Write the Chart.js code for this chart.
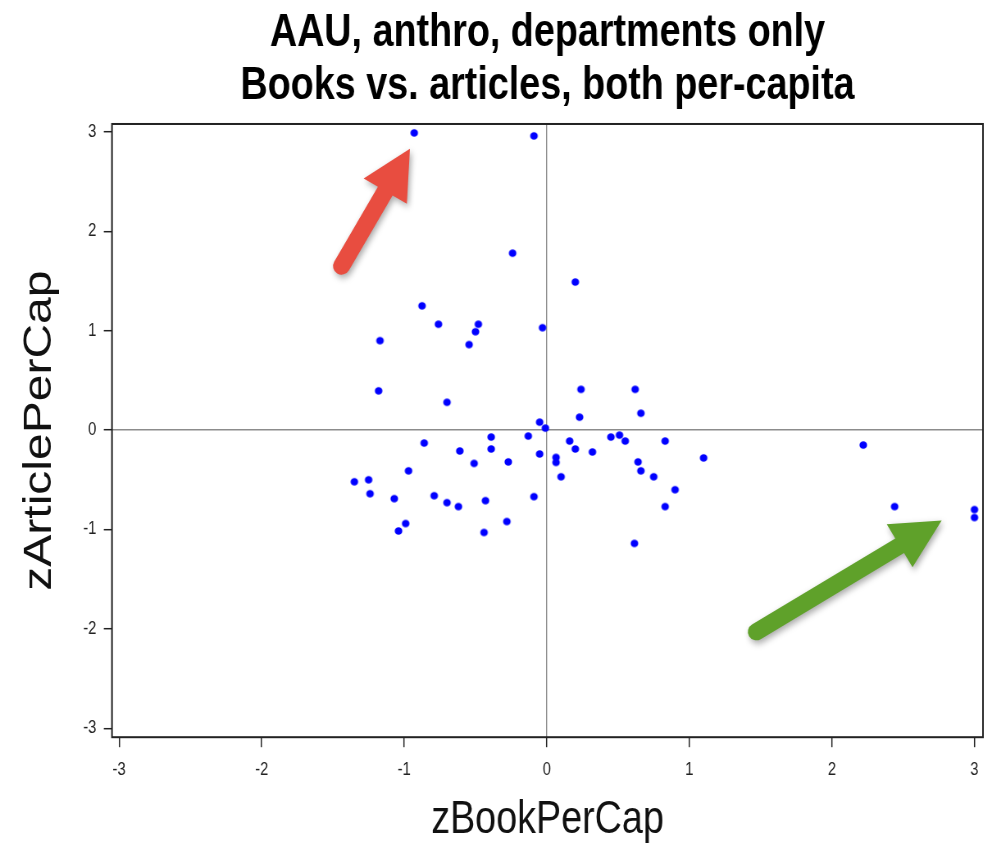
<!DOCTYPE html>
<html>
<head>
<meta charset="utf-8">
<script src="https://cdn.jsdelivr.net/npm/chart.js@4.4.1/dist/chart.umd.min.js"></script>
<style>
  html, body { margin: 0; padding: 0; background: #fff; }
</style>
</head>
<body>
<!-- drawn wider and squeezed by css so the text gets the narrow look of the original -->
<canvas id="scatter" width="1210" height="848" style="display:block;width:992px;height:848px"></canvas>
<script>
const titleLines = ['AAU, anthro, departments only', 'Books vs. articles, both per-capita'];
const xTitle = 'zBookPerCap';
const yTitle = 'zArticlePerCap';
const xTicks = [-3, -2, -1, 0, 1, 2, 3];
const yTicks = [-3, -2, -1, 0, 1, 2, 3];

// one entry per department
const zBookPerCap = [
  -0.93, -0.875, -1.17, -1.18, -0.09, -0.24, 0.20, -0.76, -0.48, -0.50,
  -0.545, -0.03, 0.24, 0.62, 0.23, 0.66, -0.70, -0.05, -0.01, -0.86,
  -0.61, -0.39, -0.39, -0.13, -0.51, -0.27, -0.05, 0.065, 0.065, 0.10,
  0.16, 0.20, 0.32, 0.45, 0.51, 0.55, 0.64, 0.66, 0.75, 0.615,
  -1.35, -1.25, -1.24, -0.97, -1.07, -0.99, -1.04, -0.79, -0.70, -0.62,
  -0.43, -0.44, -0.28, -0.09, 0.83, 0.90, 0.83, 1.10, 2.22, 2.44,
  3.00, 3.00
];
const zArticlePerCap = [
  2.99, 1.25, 0.90, 0.395, 2.96, 1.78, 1.49, 1.065, 1.065, 0.99,
  0.86, 1.03, 0.41, 0.41, 0.13, 0.17, 0.28, 0.08, 0.02, -0.13,
  -0.21, -0.07, -0.19, -0.06, -0.335, -0.32, -0.24, -0.275, -0.325, -0.47,
  -0.11, -0.19, -0.22, -0.07, -0.05, -0.11, -0.32, -0.41, -0.47, -1.14,
  -0.52, -0.50, -0.64, -0.41, -0.69, -0.94, -1.015, -0.66, -0.73, -0.77,
  -0.71, -1.03, -0.92, -0.67, -0.11, -0.60, -0.77, -0.28, -0.15, -0.77,
  -0.80, -0.88
];

// the two call-out arrows, tail -> tip, in data units
const arrowTails = [[-1.44, 1.65], [1.47, -2.03]];
const arrowTips = [[-0.96, 2.83], [2.77, -0.91]];
const arrowColors = ['#e84d40', '#5fa12a'];

const SX = 992 / 1210;   // horizontal squeeze applied by css

// round dot after the squeeze
const DOT_R = 3.8;
const dot = document.createElement('canvas');
dot.width = Math.ceil(2 * DOT_R / SX) + 2;
dot.height = Math.ceil(2 * DOT_R) + 2;
const dctx = dot.getContext('2d');
dctx.fillStyle = '#0000ff';
dctx.beginPath();
dctx.ellipse(dot.width / 2, dot.height / 2, DOT_R / SX, DOT_R, 0, 0, Math.PI * 2);
dctx.fill();

function drawArrow(ctx, xs, ys, from, to, color) {
  // work in screen pixels so the arrow isn't squeezed
  const tx = xs.getPixelForValue(from[0]) * SX, ty = ys.getPixelForValue(from[1]);
  const hx = xs.getPixelForValue(to[0]) * SX, hy = ys.getPixelForValue(to[1]);
  const len = Math.hypot(hx - tx, hy - ty);
  const headLen = 49, headHalf = 25, w = 8.5;
  ctx.save();
  ctx.scale(1 / SX, 1);
  ctx.translate(tx, ty);
  ctx.rotate(Math.atan2(hy - ty, hx - tx));
  ctx.shadowColor = 'rgba(0,0,0,0.35)';
  ctx.shadowBlur = 7;
  ctx.shadowOffsetX = 2;
  ctx.shadowOffsetY = 3;
  ctx.fillStyle = color;
  ctx.beginPath();
  ctx.moveTo(0, -w);
  ctx.lineTo(len - headLen, -w);
  ctx.lineTo(len - headLen, -headHalf);
  ctx.lineTo(len, 0);
  ctx.lineTo(len - headLen, headHalf);
  ctx.lineTo(len - headLen, w);
  ctx.lineTo(0, w);
  ctx.arc(0, 0, w, Math.PI / 2, Math.PI * 1.5);
  ctx.closePath();
  ctx.fill();
  ctx.restore();
}

const frameAndArrows = {
  id: 'frameAndArrows',
  afterDatasetsDraw(chart) {
    const {ctx, chartArea: a, scales} = chart;
    ctx.save();
    ctx.strokeStyle = '#222';
    ctx.lineWidth = 2;
    ctx.strokeRect(a.left, a.top, a.right - a.left, a.bottom - a.top);
    ctx.restore();
    arrowTails.forEach((t, i) => drawArrow(ctx, scales.x, scales.y, t, arrowTips[i], arrowColors[i]));
  }
};

Chart.defaults.font.family = "'Liberation Sans', Arial, sans-serif";
Chart.defaults.color = '#222';

const zeroGrid = {
  drawOnChartArea: true,
  drawTicks: true,
  tickLength: 10,
  tickColor: '#222',
  tickWidth: 1.5,
  color: c => (c.tick && c.tick.value === 0) ? '#8c8c8c' : 'rgba(0,0,0,0)',
  lineWidth: 1.4
};

new Chart(document.getElementById('scatter'), {
  type: 'scatter',
  data: {
    datasets: [{
      label: 'departments',
      data: zBookPerCap.map((v, i) => ({x: v, y: zArticlePerCap[i]})),
      backgroundColor: '#0000ff',
      borderColor: '#0000ff',
      pointStyle: dot,
      pointRadius: DOT_R
    }]
  },
  options: {
    responsive: false,
    animation: false,
    devicePixelRatio: 1,
    layout: { padding: { left: 10, right: 11, top: 0, bottom: 0 } },
    plugins: {
      legend: { display: false },
      tooltip: { enabled: false },
      title: {
        display: true,
        fullSize: false,
        text: titleLines,
        color: '#000',
        font: { size: 46, weight: 'bold', lineHeight: 1.152 },
        padding: { top: 7, bottom: 11 }
      }
    },
    scales: {
      x: {
        type: 'linear',
        min: -3.05,
        max: 3.06,
        afterBuildTicks: s => { s.ticks = xTicks.map(v => ({value: v})); },
        ticks: { font: { size: 18 }, padding: 12, callback: v => String(v) },
        grid: zeroGrid,
        border: { display: false },
        title: { display: true, text: xTitle, color: '#111', font: { size: 46 }, padding: { top: 0, bottom: 0 } }
      },
      y: {
        type: 'linear',
        min: -3.09,
        max: 3.08,
        afterBuildTicks: s => { s.ticks = yTicks.map(v => ({value: v})); },
        ticks: { font: { size: 18 }, padding: 9, callback: v => String(v) },
        grid: zeroGrid,
        border: { display: false },
        title: { display: true, text: yTitle, color: '#111', font: { size: 48 }, padding: { top: 10, bottom: 15 } }
      }
    }
  },
  plugins: [frameAndArrows]
});
</script>
</body>
</html>
